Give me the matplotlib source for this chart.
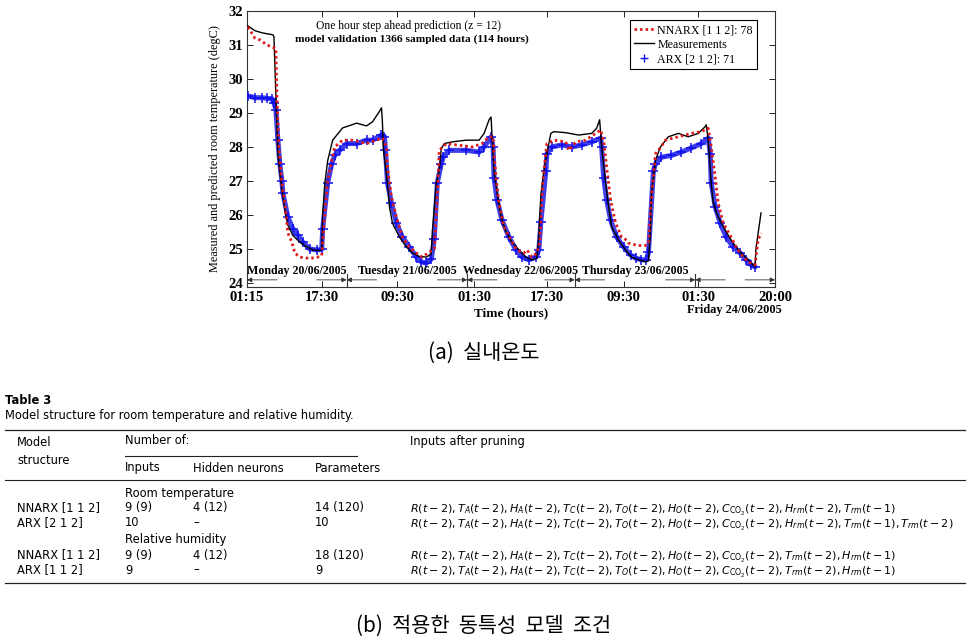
import matplotlib
matplotlib.use("Agg")
import matplotlib.pyplot as plt
from matplotlib.lines import Line2D

# ---------------- data (hours since Monday 01:15) ----------------
t_meas = [0.22, 1.73, 3.25, 4.33, 5.63, 5.85, 6.28, 6.71, 7.58, 8.23, 8.88, 9.96, 11.47, 12.99,
          14.29, 15.80, 16.24, 16.45, 16.89, 17.54, 18.62, 20.78, 23.82, 25.98, 27.28, 28.80,
          29.23, 29.44, 29.66, 30.53, 30.96, 31.61, 33.12, 34.64, 35.94, 37.45, 38.97, 40.05,
          40.27, 41.14, 41.78, 42.22, 42.87, 44.60, 47.63, 50.45, 51.53, 52.61, 53.04, 53.26,
          53.69, 54.34, 55.21, 56.29, 57.59, 59.10, 60.62, 61.92, 63.00, 63.43, 63.87, 64.52,
          65.17, 66.03, 66.68, 69.28, 72.09, 74.91, 75.99, 76.64, 77.07, 77.94, 78.59, 79.24,
          80.75, 82.27, 83.57, 85.08, 86.60, 87.25, 87.68, 87.90, 88.77, 89.85, 91.58, 93.74,
          95.91, 98.08, 99.59, 99.81, 100.24, 100.89, 101.32, 102.41, 103.92, 105.22, 106.76,
          108.26, 109.56, 110.42, 110.60, 111.71]
v_meas = [31.56, 31.42, 31.36, 31.33, 31.30, 31.25, 29.5, 27.8, 26.74, 26.15, 25.70, 25.40, 25.20,
          25.06, 24.97, 24.95, 25.0, 26.0, 26.9, 27.6, 28.2, 28.56, 28.70, 28.62, 28.74, 29.05,
          29.15, 28.7, 27.9, 26.94, 26.24, 25.76, 25.35, 25.06, 24.88, 24.78, 24.76, 24.85, 25.5,
          26.94, 27.3, 27.95, 28.1, 28.15, 28.2, 28.2, 28.4, 28.8, 28.88, 28.3, 27.3, 26.65, 25.94,
          25.5, 25.2, 24.97, 24.76, 24.68, 24.72, 25.4, 26.6, 27.3, 27.8, 28.4, 28.45, 28.42, 28.35,
          28.4, 28.55, 28.8, 28.0, 26.94, 26.24, 25.65, 25.26, 24.97, 24.76, 24.68, 24.62, 24.65,
          25.5, 26.6, 27.6, 28.0, 28.3, 28.4, 28.3, 28.4, 28.6, 28.65, 28.2, 26.94, 26.35, 25.94,
          25.56, 25.26, 24.97, 24.76, 24.59, 24.47, 25.0, 26.06]

t_arx = [0.22, 1.73, 3.25, 4.33, 5.41, 5.85, 6.28, 6.71, 7.14, 7.58, 7.79, 8.88, 9.96, 11.04, 12.12,
         13.64, 15.16, 16.24, 16.45, 17.54, 18.40, 19.05, 20.13, 21.65, 23.82, 25.98, 27.28, 29.23,
         29.88, 30.09, 30.53, 31.39, 32.48, 33.77, 35.29, 36.81, 37.89, 38.97, 40.05, 40.70, 41.35,
         42.22, 42.60, 43.95, 47.63, 50.45, 51.53, 53.04, 53.48, 53.69, 54.34, 55.42, 56.94, 58.46,
         59.75, 61.27, 62.79, 63.43, 63.87, 64.95, 65.17, 66.25, 68.41, 70.58, 72.74, 74.91, 76.86,
         77.07, 77.51, 78.16, 79.02, 80.32, 81.84, 83.35, 84.44, 85.73, 86.82, 87.25, 88.33, 88.77,
         90.06, 92.23, 94.39, 96.56, 98.73, 100.24, 100.67, 100.89, 101.76, 102.84, 104.14, 105.65,
         107.18, 108.48, 109.56, 110.42]
v_arx = [29.50, 29.45, 29.45, 29.43, 29.42, 29.3, 29.1, 28.2, 27.5, 27.0, 26.65, 25.94, 25.6, 25.4,
         25.2, 25.0, 24.97, 24.99, 25.6, 26.94, 27.5, 27.75, 27.9, 28.1, 28.1, 28.2, 28.2, 28.35, 28.3,
         27.9, 26.94, 26.35, 25.76, 25.35, 25.06, 24.76, 24.62, 24.58, 24.7, 25.3, 26.94, 27.5, 27.7,
         27.9, 27.9, 27.85, 28.0, 28.3, 28.0, 27.1, 26.44, 25.85, 25.35, 24.97, 24.76, 24.68, 24.76,
         24.97, 25.8, 27.3, 27.8, 28.0, 28.06, 28.0, 28.06, 28.15, 28.26, 28.0, 27.1, 26.44, 25.85,
         25.35, 25.06, 24.82, 24.73, 24.68, 24.68, 24.9, 27.3, 27.5, 27.7, 27.75, 27.85, 27.97, 28.1,
         28.26, 27.8, 26.94, 26.24, 25.76, 25.35, 25.06, 24.88, 24.68, 24.53, 24.47]

t_nnarx = [0.22, 1.73, 2.81, 4.33, 5.41, 6.28, 6.50, 6.93, 7.58, 8.23, 8.88, 9.74, 10.39, 11.47,
           13.64, 15.37, 16.24, 16.89, 17.54, 19.05, 20.78, 22.95, 25.98, 28.15, 29.44, 30.31,
           30.53, 31.39, 32.48, 33.77, 35.29, 36.81, 38.10, 39.62, 40.70, 41.35, 41.78, 43.30,
           46.11, 48.93, 51.09, 52.61, 53.48, 53.69, 54.13, 54.77, 55.86, 57.37, 58.67, 60.19,
           60.84, 61.92, 63.00, 63.65, 64.30, 65.17, 66.68, 69.28, 69.93, 71.45, 73.61, 75.78,
           76.86, 77.51, 78.16, 79.02, 80.11, 81.40, 82.49, 82.92, 85.08, 86.60, 87.25, 87.90,
           88.77, 89.42, 90.93, 93.74, 96.56, 98.73, 100.24, 100.89, 101.76, 102.41, 103.49,
           105.00, 106.30, 107.82, 109.34, 110.42, 111.07, 111.71]
v_nnarx = [31.53, 31.2, 31.15, 31.0, 30.94, 30.9, 29.5, 28.0, 26.94, 26.35, 25.47, 25.2, 24.88,
           24.76, 24.72, 24.76, 24.8, 26.0, 27.0, 28.0, 28.2, 28.2, 28.1, 28.2, 28.26, 28.0, 27.4,
           26.53, 25.94, 25.35, 25.06, 24.88, 24.76, 24.91, 25.0, 26.5, 27.9, 28.1, 28.05, 28.0,
           28.1, 28.3, 28.3, 27.8, 27.1, 26.35, 25.65, 25.26, 24.97, 24.88, 24.97, 24.76, 24.88,
           25.2, 27.0, 28.1, 28.2, 28.15, 27.9, 28.15, 28.2, 28.4, 28.5, 28.2, 27.4, 26.44, 25.76,
           25.35, 25.26, 25.17, 25.1, 25.1, 25.15, 26.5, 27.8, 27.9, 28.2, 28.3, 28.4, 28.45, 28.55,
           28.0, 27.1, 26.35, 25.76, 25.4, 25.06, 24.76, 24.59, 24.53, 25.26, 25.47]

tick_pos = [0, 16.24, 32.69, 49.36, 65.17, 81.84, 98.08, 114.75]
tick_lab = ["01:15", "17:30", "09:30", "01:30", "17:30", "09:30", "01:30", "20:00"]
day_bounds = [0, 21.65, 47.85, 71.23, 97.43, 114.75]
day_labels = ["Monday 20/06/2005", "Tuesday 21/06/2005", "Wednesday 22/06/2005",
              "Thursday 23/06/2005", "Friday 24/06/2005"]

legend_labels = ["NNARX [1 1 2]: 78", "Measurements", "ARX [2 1 2]: 71"]

# ---------------- figure ----------------
W, H = 975, 641
fig = plt.figure(figsize=(W / 100, H / 100), dpi=100)
fig.patch.set_facecolor("white")

def fx(p):
    return p / W

def fy(p):
    return 1 - p / H

SERIF = ["Liberation Serif", "DejaVu Serif"]
ax_l, ax_r, ax_t, ax_b = 247, 775, 11, 287
ax = fig.add_axes([fx(ax_l), fy(ax_b), (ax_r - ax_l) / W, (ax_b - ax_t) / H])

ax.plot(t_arx, v_arx, color="#2a2ae8", lw=3.6, alpha=0.9, zorder=2, solid_capstyle="round")
ax.plot(t_arx, v_arx, color="#1010f0", lw=0, marker="+", ms=7, mew=1.1, zorder=3)
ax.plot(t_meas, v_meas, color="black", lw=1.0, zorder=4)
ax.plot(t_nnarx, v_nnarx, color="#e01818", lw=2.0, ls=(0, (0.9, 1.1)), zorder=5)

ax.set_xlim(0, 114.75)
ax.set_ylim(23.88, 32)
ax.set_yticks(range(24, 33))
ax.set_xticks(tick_pos)
ax.set_xticklabels(tick_lab)
ax.tick_params(direction="in", top=True, right=True, length=4, width=0.6,
               labelsize=10.5, pad=3)
for lab in ax.get_xticklabels() + ax.get_yticklabels():
    lab.set_family(SERIF)
    lab.set_weight("bold")
for s in ax.spines.values():
    s.set_linewidth(0.8)
    s.set_color("#333333")

ax.set_xlabel("Time (hours)", family=SERIF, fontsize=9.5, weight="bold", labelpad=2)
ax.set_ylabel("Measured and predicted room temperature (degC)", family=SERIF,
              fontsize=8.8, labelpad=5)

ax.text(0.305, 0.945, "One hour step ahead prediction (z = 12)", transform=ax.transAxes,
        ha="center", va="center", family=SERIF, fontsize=8.4)
ax.text(0.313, 0.897, "model validation 1366 sampled data (114 hours)", transform=ax.transAxes,
        ha="center", va="center", family=SERIF, fontsize=8.2, weight="bold")

handles = [Line2D([], [], color="#e01818", lw=2.0, ls=(0, (0.9, 1.1))),
           Line2D([], [], color="black", lw=1.0),
           Line2D([], [], color="#1010f0", lw=0, marker="+", ms=6)]
leg = ax.legend(handles, legend_labels, loc="upper right", bbox_to_anchor=(0.966, 0.967),
                borderaxespad=0, fancybox=False, edgecolor="black", framealpha=1,
                prop={"family": SERIF, "size": 8.6}, handlelength=1.7, handletextpad=0.25,
                labelspacing=0.2, borderpad=0.35)
leg.get_frame().set_linewidth(0.8)

# day annotations
arrow_y = 24.09
alen = 6.5
aprops = dict(arrowstyle="-|>", lw=0.6, color="#333333", mutation_scale=7, shrinkA=0, shrinkB=0)
for i in range(5):
    a, b = day_bounds[i], day_bounds[i + 1]
    ax.annotate("", xy=(a, arrow_y), xytext=(a + alen, arrow_y), arrowprops=aprops)
    ax.annotate("", xy=(b, arrow_y), xytext=(b - alen, arrow_y), arrowprops=aprops)
    if i > 0:
        ax.plot([a, a], [23.88, 24.25], color="#333333", lw=0.8)
    if i < 4:
        ax.text((a + b) / 2, 24.34, day_labels[i], ha="center", va="center",
                family=SERIF, fontsize=8.6, weight="bold")
fig.text(fx(782), fy(310), day_labels[4], ha="right", va="center", family=SERIF,
         fontsize=8.8, weight="bold")

# caption (a)
KR = ["Noto Sans CJK KR", "DejaVu Sans"]
fig.text(fx(484), fy(353), "(a)  실내온도", ha="center", va="center", family=KR, fontsize=15)

# ---------------- table ----------------
TF = ["DejaVu Sans"]
ts = 8.3
fig.text(fx(5), fy(400), "Table 3", ha="left", va="center", family=TF, fontsize=ts, weight="bold")
fig.text(fx(5), fy(415), "Model structure for room temperature and relative humidity.",
         ha="left", va="center", family=TF, fontsize=ts)

def hline(y, x0, x1, lw=0.9):
    fig.add_artist(Line2D([fx(x0), fx(x1)], [fy(y), fy(y)], color="#222222", lw=lw))

hline(430, 5, 965)
hline(456, 125, 357, lw=0.8)
hline(480, 5, 965, lw=0.8)
hline(583, 5, 965)

col_model, col_in, col_hid, col_par, col_pr = 17, 125, 193, 315, 410
hdr = [(col_model, 443, "Model"), (col_model, 460, "structure"), (col_in, 441, "Number of:"),
       (col_pr, 441, "Inputs after pruning"), (col_in, 468, "Inputs"),
       (col_hid, 468, "Hidden neurons"), (col_par, 468, "Parameters")]
for x, y, s in hdr:
    fig.text(fx(x), fy(y), s, ha="left", va="center", family=TF, fontsize=ts)

section_rows = [(493, "Room temperature"), (539, "Relative humidity")]
for y, s in section_rows:
    fig.text(fx(col_in), fy(y), s, ha="left", va="center", family=TF, fontsize=ts)

models = ["NNARX [1 1 2]", "ARX [2 1 2]", "NNARX [1 1 2]", "ARX [1 1 2]"]
n_inputs = ["9 (9)", "10", "9 (9)", "9"]
n_hidden = ["4 (12)", "\u2013", "4 (12)", "\u2013"]
n_params = ["14 (120)", "10", "18 (120)", "9"]
pruned = [
    r"$R(t-2), T_A(t-2), H_A(t-2), T_C(t-2), T_O(t-2), H_O(t-2), C_{\mathrm{CO_2}}(t-2), H_{rm}(t-2), T_{rm}(t-1)$",
    r"$R(t-2), T_A(t-2), H_A(t-2), T_C(t-2), T_O(t-2), H_O(t-2), C_{\mathrm{CO_2}}(t-2), H_{rm}(t-2), T_{rm}(t-1), T_{rm}(t-2)$",
    r"$R(t-2), T_A(t-2), H_A(t-2), T_C(t-2), T_O(t-2), H_O(t-2), C_{\mathrm{CO_2}}(t-2), T_{rm}(t-2), H_{rm}(t-1)$",
    r"$R(t-2), T_A(t-2), H_A(t-2), T_C(t-2), T_O(t-2), H_O(t-2), C_{\mathrm{CO_2}}(t-2), T_{rm}(t-2), H_{rm}(t-1)$",
]
row_y = [508, 523, 555, 570]
for i, y in enumerate(row_y):
    fig.text(fx(col_model), fy(y), models[i], ha="left", va="center", family=TF, fontsize=ts)
    fig.text(fx(col_in), fy(y), n_inputs[i], ha="left", va="center", family=TF, fontsize=ts)
    fig.text(fx(col_hid), fy(y), n_hidden[i], ha="left", va="center", family=TF, fontsize=ts)
    fig.text(fx(col_par), fy(y), n_params[i], ha="left", va="center", family=TF, fontsize=ts)
    fig.text(fx(col_pr), fy(y), pruned[i], ha="left", va="center_baseline", family=TF,
             fontsize=8.0)

fig.text(fx(484), fy(626), "(b)  적용한  동특성  모델  조건", ha="center", va="center",
         family=KR, fontsize=15)

fig.savefig("out.png", dpi=100)
